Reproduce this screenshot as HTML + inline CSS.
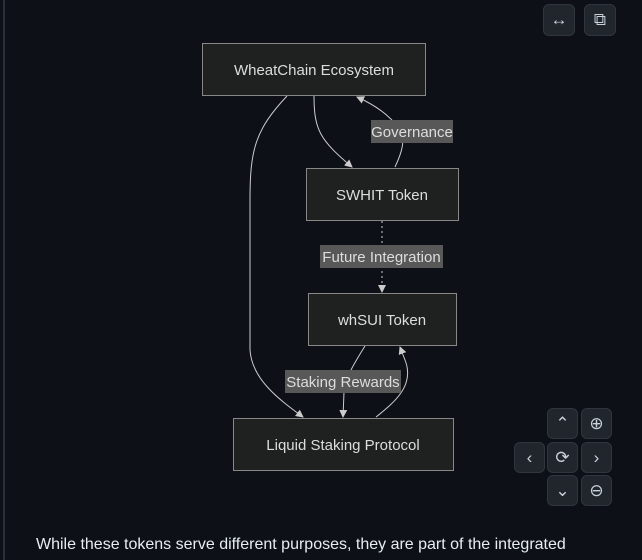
<!DOCTYPE html>
<html><head><style>
body{margin:0;width:642px;height:560px;background:#0d1117;overflow:hidden;font-family:"Liberation Sans",sans-serif;position:relative}
.bar{position:absolute;left:3px;top:0;width:2px;height:560px;background:#2a2f37}
.btn{position:absolute;width:31px;height:31px;background:#21262d;border:1px solid #30363d;border-radius:6px;box-sizing:border-box;color:#c9d1d9;display:flex;align-items:center;justify-content:center;font-size:17px}
.txt{position:absolute;left:36px;top:536px;color:#e6edf3;font-size:16px}
</style></head><body>
<div class="bar"></div>
<svg width="642" height="560" style="position:absolute;left:0;top:0" font-family="Liberation Sans, sans-serif">
<defs><marker id="a" markerWidth="8" markerHeight="8" refX="7" refY="4" orient="auto" markerUnits="userSpaceOnUse"><path d="M0,0L8,4L0,8z" fill="#ccc"/></marker></defs>
<g fill="none" stroke="#ccc" stroke-width="1">
<path d="M287,96 C255,130 250,150 250,200 L250,350 C252,380 280,400 303,417" marker-end="url(#a)"/>
<path d="M314,96 C314,130 320,140 352,167" marker-end="url(#a)"/>
<path d="M395,167 C403,150 405,140 400,130 C390,115 375,105 357,97" marker-end="url(#a)"/>
<path d="M382,221 L382,292" stroke-dasharray="2,3" marker-end="url(#a)"/>
<path d="M365,346 C355,362 345,378 344,392 L343,417" marker-end="url(#a)"/>
<path d="M376,417 C395,402 415,385 405,360 L400,347" marker-end="url(#a)"/>
</g>
<g fill="#1f2020" stroke="#888" stroke-width="1">
<rect x="202.5" y="43.5" width="223" height="52"/>
<rect x="306.5" y="168.5" width="152" height="52"/>
<rect x="308.5" y="293.5" width="148" height="52"/>
<rect x="233.5" y="418.5" width="220" height="52"/>
</g>
<g fill="#585858">
<rect x="371" y="120" width="82" height="23"/>
<rect x="320" y="245" width="123" height="23"/>
<rect x="285" y="370" width="116" height="23"/>
</g>
<g fill="#ddd" font-size="15" text-anchor="middle">
<text x="314" y="75">WheatChain Ecosystem</text>
<text x="382" y="200">SWHIT Token</text>
<text x="382" y="325">whSUI Token</text>
<text x="343" y="450">Liquid Staking Protocol</text>
<text x="412" y="137">Governance</text>
<text x="381.5" y="262">Future Integration</text>
<text x="343" y="387">Staking Rewards</text>
</g>
</svg>
<div class="btn" style="left:543px;top:4px;width:32px;height:32px">↔</div>
<div class="btn" style="left:584px;top:4px;width:32px;height:32px">⧉</div>
<div class="btn" style="left:547px;top:408px">⌃</div>
<div class="btn" style="left:581px;top:408px">⊕</div>
<div class="btn" style="left:514px;top:442px">‹</div>
<div class="btn" style="left:547px;top:442px">⟳</div>
<div class="btn" style="left:581px;top:442px">›</div>
<div class="btn" style="left:547px;top:475px">⌄</div>
<div class="btn" style="left:581px;top:475px">⊖</div>
<div class="txt">While these tokens serve different purposes, they are part of the integrated</div>
</body></html>
